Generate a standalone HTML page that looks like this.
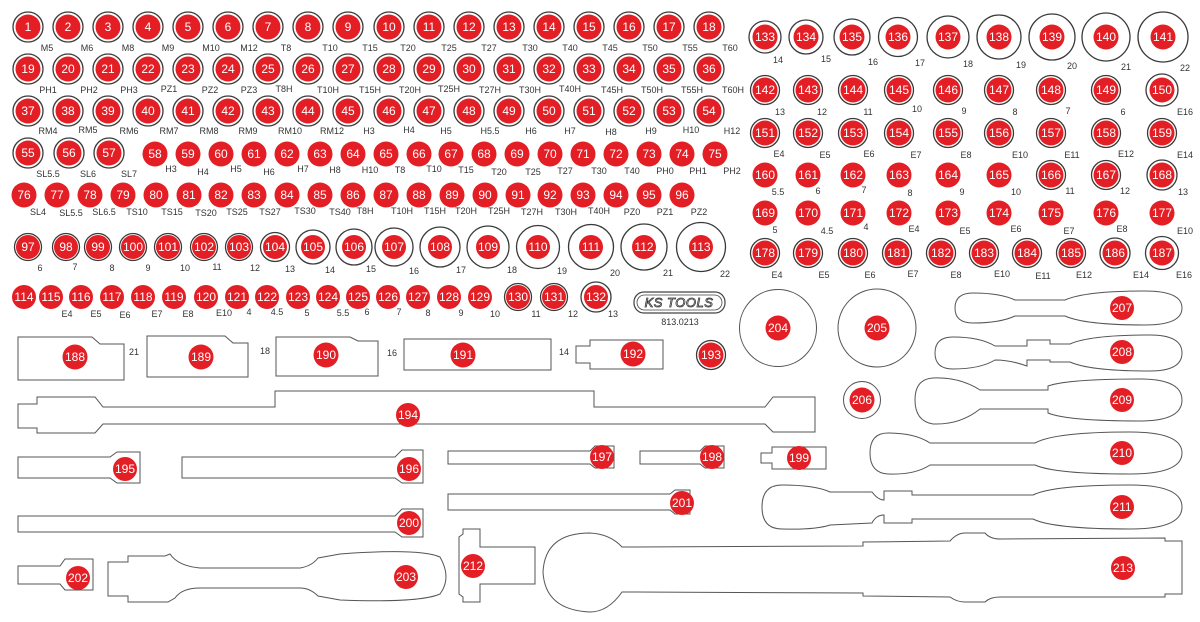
<!DOCTYPE html>
<html><head><meta charset="utf-8"><style>
html,body{margin:0;padding:0;background:#fff}
svg{display:block}
.r{fill:#e31e24}
.k{fill:#fff;stroke:#3a3a3a;stroke-width:1.3}
.n{font-family:"Liberation Sans",sans-serif;font-size:12px;fill:#fff;text-anchor:middle;dominant-baseline:central}
.l{font-family:"Liberation Sans",sans-serif;font-size:9px;fill:#333;text-anchor:middle}
.o{fill:none;stroke:#555;stroke-width:1}
</style></head><body>
<svg width="1200" height="622" viewBox="0 0 1200 622" xmlns="http://www.w3.org/2000/svg">
<!-- Row 1 -->
<g>
<circle class="k" cx="28" cy="27" r="15"/><circle class="r" cx="28" cy="27" r="12.5"/><text class="n" x="28" y="27">1</text><text class="l" x="47" y="51">M5</text>
<circle class="k" cx="68" cy="27" r="15"/><circle class="r" cx="68" cy="27" r="12.5"/><text class="n" x="68" y="27">2</text><text class="l" x="87" y="51">M6</text>
<circle class="k" cx="108" cy="27" r="15"/><circle class="r" cx="108" cy="27" r="12.5"/><text class="n" x="108" y="27">3</text><text class="l" x="128" y="51">M8</text>
<circle class="k" cx="148" cy="27" r="15"/><circle class="r" cx="148" cy="27" r="12.5"/><text class="n" x="148" y="27">4</text><text class="l" x="168" y="51">M9</text>
<circle class="k" cx="188" cy="27" r="15"/><circle class="r" cx="188" cy="27" r="12.5"/><text class="n" x="188" y="27">5</text><text class="l" x="211" y="51">M10</text>
<circle class="k" cx="228" cy="27" r="15"/><circle class="r" cx="228" cy="27" r="12.5"/><text class="n" x="228" y="27">6</text><text class="l" x="249" y="51">M12</text>
<circle class="k" cx="268" cy="27" r="15"/><circle class="r" cx="268" cy="27" r="12.5"/><text class="n" x="268" y="27">7</text><text class="l" x="286" y="51">T8</text>
<circle class="k" cx="308" cy="27" r="15"/><circle class="r" cx="308" cy="27" r="12.5"/><text class="n" x="308" y="27">8</text><text class="l" x="330" y="51">T10</text>
<circle class="k" cx="348" cy="27" r="15"/><circle class="r" cx="348" cy="27" r="12.5"/><text class="n" x="348" y="27">9</text><text class="l" x="370" y="51">T15</text>
<circle class="k" cx="389" cy="27" r="15"/><circle class="r" cx="389" cy="27" r="12.5"/><text class="n" x="389" y="27">10</text><text class="l" x="408" y="51">T20</text>
<circle class="k" cx="429" cy="27" r="15"/><circle class="r" cx="429" cy="27" r="12.5"/><text class="n" x="429" y="27">11</text><text class="l" x="449" y="51">T25</text>
<circle class="k" cx="469" cy="27" r="15"/><circle class="r" cx="469" cy="27" r="12.5"/><text class="n" x="469" y="27">12</text><text class="l" x="489" y="51">T27</text>
<circle class="k" cx="509" cy="27" r="15"/><circle class="r" cx="509" cy="27" r="12.5"/><text class="n" x="509" y="27">13</text><text class="l" x="530" y="51">T30</text>
<circle class="k" cx="549" cy="27" r="15"/><circle class="r" cx="549" cy="27" r="12.5"/><text class="n" x="549" y="27">14</text><text class="l" x="570" y="51">T40</text>
<circle class="k" cx="589" cy="27" r="15"/><circle class="r" cx="589" cy="27" r="12.5"/><text class="n" x="589" y="27">15</text><text class="l" x="610" y="51">T45</text>
<circle class="k" cx="629" cy="27" r="15"/><circle class="r" cx="629" cy="27" r="12.5"/><text class="n" x="629" y="27">16</text><text class="l" x="650" y="51">T50</text>
<circle class="k" cx="669" cy="27" r="15"/><circle class="r" cx="669" cy="27" r="12.5"/><text class="n" x="669" y="27">17</text><text class="l" x="690" y="51">T55</text>
<circle class="k" cx="709" cy="27" r="15"/><circle class="r" cx="709" cy="27" r="12.5"/><text class="n" x="709" y="27">18</text><text class="l" x="730" y="51">T60</text>
</g>
<!-- Row 2 -->
<g>
<circle class="k" cx="28" cy="69" r="15"/><circle class="r" cx="28" cy="69" r="12.5"/><text class="n" x="28" y="69">19</text><text class="l" x="48" y="93">PH1</text>
<circle class="k" cx="68" cy="69" r="15"/><circle class="r" cx="68" cy="69" r="12.5"/><text class="n" x="68" y="69">20</text><text class="l" x="89" y="93">PH2</text>
<circle class="k" cx="108" cy="69" r="15"/><circle class="r" cx="108" cy="69" r="12.5"/><text class="n" x="108" y="69">21</text><text class="l" x="129" y="93">PH3</text>
<circle class="k" cx="148" cy="69" r="15"/><circle class="r" cx="148" cy="69" r="12.5"/><text class="n" x="148" y="69">22</text><text class="l" x="169" y="92">PZ1</text>
<circle class="k" cx="188" cy="69" r="15"/><circle class="r" cx="188" cy="69" r="12.5"/><text class="n" x="188" y="69">23</text><text class="l" x="210" y="93">PZ2</text>
<circle class="k" cx="228" cy="69" r="15"/><circle class="r" cx="228" cy="69" r="12.5"/><text class="n" x="228" y="69">24</text><text class="l" x="249" y="93">PZ3</text>
<circle class="k" cx="268" cy="69" r="15"/><circle class="r" cx="268" cy="69" r="12.5"/><text class="n" x="268" y="69">25</text><text class="l" x="284" y="92">T8H</text>
<circle class="k" cx="308" cy="69" r="15"/><circle class="r" cx="308" cy="69" r="12.5"/><text class="n" x="308" y="69">26</text><text class="l" x="328" y="93">T10H</text>
<circle class="k" cx="348" cy="69" r="15"/><circle class="r" cx="348" cy="69" r="12.5"/><text class="n" x="348" y="69">27</text><text class="l" x="370" y="93">T15H</text>
<circle class="k" cx="389" cy="69" r="15"/><circle class="r" cx="389" cy="69" r="12.5"/><text class="n" x="389" y="69">28</text><text class="l" x="410" y="93">T20H</text>
<circle class="k" cx="429" cy="69" r="15"/><circle class="r" cx="429" cy="69" r="12.5"/><text class="n" x="429" y="69">29</text><text class="l" x="449" y="92">T25H</text>
<circle class="k" cx="469" cy="69" r="15"/><circle class="r" cx="469" cy="69" r="12.5"/><text class="n" x="469" y="69">30</text><text class="l" x="490" y="93">T27H</text>
<circle class="k" cx="509" cy="69" r="15"/><circle class="r" cx="509" cy="69" r="12.5"/><text class="n" x="509" y="69">31</text><text class="l" x="530" y="93">T30H</text>
<circle class="k" cx="549" cy="69" r="15"/><circle class="r" cx="549" cy="69" r="12.5"/><text class="n" x="549" y="69">32</text><text class="l" x="570" y="92">T40H</text>
<circle class="k" cx="589" cy="69" r="15"/><circle class="r" cx="589" cy="69" r="12.5"/><text class="n" x="589" y="69">33</text><text class="l" x="612" y="93">T45H</text>
<circle class="k" cx="629" cy="69" r="15"/><circle class="r" cx="629" cy="69" r="12.5"/><text class="n" x="629" y="69">34</text><text class="l" x="652" y="93">T50H</text>
<circle class="k" cx="669" cy="69" r="15"/><circle class="r" cx="669" cy="69" r="12.5"/><text class="n" x="669" y="69">35</text><text class="l" x="692" y="93">T55H</text>
<circle class="k" cx="709" cy="69" r="15"/><circle class="r" cx="709" cy="69" r="12.5"/><text class="n" x="709" y="69">36</text><text class="l" x="733" y="93">T60H</text>
</g>
<!-- Row 3 -->
<g>
<circle class="k" cx="28" cy="111" r="15"/><circle class="r" cx="28" cy="111" r="12.5"/><text class="n" x="28" y="111">37</text><text class="l" x="48" y="134">RM4</text>
<circle class="k" cx="68" cy="111" r="15"/><circle class="r" cx="68" cy="111" r="12.5"/><text class="n" x="68" y="111">38</text><text class="l" x="88" y="133">RM5</text>
<circle class="k" cx="108" cy="111" r="15"/><circle class="r" cx="108" cy="111" r="12.5"/><text class="n" x="108" y="111">39</text><text class="l" x="129" y="134">RM6</text>
<circle class="k" cx="148" cy="111" r="15"/><circle class="r" cx="148" cy="111" r="12.5"/><text class="n" x="148" y="111">40</text><text class="l" x="169" y="134">RM7</text>
<circle class="k" cx="188" cy="111" r="15"/><circle class="r" cx="188" cy="111" r="12.5"/><text class="n" x="188" y="111">41</text><text class="l" x="209" y="134">RM8</text>
<circle class="k" cx="228" cy="111" r="15"/><circle class="r" cx="228" cy="111" r="12.5"/><text class="n" x="228" y="111">42</text><text class="l" x="248" y="134">RM9</text>
<circle class="k" cx="268" cy="111" r="15"/><circle class="r" cx="268" cy="111" r="12.5"/><text class="n" x="268" y="111">43</text><text class="l" x="290" y="134">RM10</text>
<circle class="k" cx="308" cy="111" r="15"/><circle class="r" cx="308" cy="111" r="12.5"/><text class="n" x="308" y="111">44</text><text class="l" x="332" y="134">RM12</text>
<circle class="k" cx="348" cy="111" r="15"/><circle class="r" cx="348" cy="111" r="12.5"/><text class="n" x="348" y="111">45</text><text class="l" x="369" y="134">H3</text>
<circle class="k" cx="389" cy="111" r="15"/><circle class="r" cx="389" cy="111" r="12.5"/><text class="n" x="389" y="111">46</text><text class="l" x="409" y="133">H4</text>
<circle class="k" cx="429" cy="111" r="15"/><circle class="r" cx="429" cy="111" r="12.5"/><text class="n" x="429" y="111">47</text><text class="l" x="446" y="134">H5</text>
<circle class="k" cx="469" cy="111" r="15"/><circle class="r" cx="469" cy="111" r="12.5"/><text class="n" x="469" y="111">48</text><text class="l" x="490" y="134">H5.5</text>
<circle class="k" cx="509" cy="111" r="15"/><circle class="r" cx="509" cy="111" r="12.5"/><text class="n" x="509" y="111">49</text><text class="l" x="531" y="134">H6</text>
<circle class="k" cx="549" cy="111" r="15"/><circle class="r" cx="549" cy="111" r="12.5"/><text class="n" x="549" y="111">50</text><text class="l" x="570" y="134">H7</text>
<circle class="k" cx="589" cy="111" r="15"/><circle class="r" cx="589" cy="111" r="12.5"/><text class="n" x="589" y="111">51</text><text class="l" x="611" y="135">H8</text>
<circle class="k" cx="629" cy="111" r="15"/><circle class="r" cx="629" cy="111" r="12.5"/><text class="n" x="629" y="111">52</text><text class="l" x="651" y="134">H9</text>
<circle class="k" cx="669" cy="111" r="15"/><circle class="r" cx="669" cy="111" r="12.5"/><text class="n" x="669" y="111">53</text><text class="l" x="691" y="133">H10</text>
<circle class="k" cx="709" cy="111" r="15"/><circle class="r" cx="709" cy="111" r="12.5"/><text class="n" x="709" y="111">54</text><text class="l" x="732" y="134">H12</text>
</g>
<!-- Row 4 -->
<g>
<circle class="k" cx="28" cy="153" r="15"/><circle class="r" cx="28" cy="153" r="12.5"/><text class="n" x="28" y="153">55</text><text class="l" x="48" y="177">SL5.5</text>
<circle class="k" cx="69" cy="153" r="15"/><circle class="r" cx="69" cy="153" r="12.5"/><text class="n" x="69" y="153">56</text><text class="l" x="88" y="177">SL6</text>
<circle class="k" cx="109" cy="153" r="15"/><circle class="r" cx="109" cy="153" r="12.5"/><text class="n" x="109" y="153">57</text><text class="l" x="129" y="177">SL7</text>
<circle class="r" cx="155" cy="154" r="12.5"/><text class="n" x="155" y="154">58</text><text class="l" x="171" y="172">H3</text>
<circle class="r" cx="188" cy="154" r="12.5"/><text class="n" x="188" y="154">59</text><text class="l" x="203" y="175">H4</text>
<circle class="r" cx="221" cy="154" r="12.5"/><text class="n" x="221" y="154">60</text><text class="l" x="236" y="172">H5</text>
<circle class="r" cx="254" cy="154" r="12.5"/><text class="n" x="254" y="154">61</text><text class="l" x="269" y="175">H6</text>
<circle class="r" cx="287" cy="154" r="12.5"/><text class="n" x="287" y="154">62</text><text class="l" x="303" y="172">H7</text>
<circle class="r" cx="320" cy="154" r="12.5"/><text class="n" x="320" y="154">63</text><text class="l" x="335" y="173">H8</text>
<circle class="r" cx="353" cy="154" r="12.5"/><text class="n" x="353" y="154">64</text><text class="l" x="370" y="173">H10</text>
<circle class="r" cx="386" cy="154" r="12.5"/><text class="n" x="386" y="154">65</text><text class="l" x="400" y="173">T8</text>
<circle class="r" cx="419" cy="154" r="12.5"/><text class="n" x="419" y="154">66</text><text class="l" x="434" y="172">T10</text>
<circle class="r" cx="451" cy="154" r="12.5"/><text class="n" x="451" y="154">67</text><text class="l" x="466" y="173">T15</text>
<circle class="r" cx="484" cy="154" r="12.5"/><text class="n" x="484" y="154">68</text><text class="l" x="499" y="175">T20</text>
<circle class="r" cx="517" cy="154" r="12.5"/><text class="n" x="517" y="154">69</text><text class="l" x="533" y="175">T25</text>
<circle class="r" cx="550" cy="154" r="12.5"/><text class="n" x="550" y="154">70</text><text class="l" x="565" y="174">T27</text>
<circle class="r" cx="583" cy="154" r="12.5"/><text class="n" x="583" y="154">71</text><text class="l" x="599" y="174">T30</text>
<circle class="r" cx="616" cy="154" r="12.5"/><text class="n" x="616" y="154">72</text><text class="l" x="632" y="174">T40</text>
<circle class="r" cx="649" cy="154" r="12.5"/><text class="n" x="649" y="154">73</text><text class="l" x="665" y="174">PH0</text>
<circle class="r" cx="682" cy="154" r="12.5"/><text class="n" x="682" y="154">74</text><text class="l" x="698" y="174">PH1</text>
<circle class="r" cx="715" cy="154" r="12.5"/><text class="n" x="715" y="154">75</text><text class="l" x="732" y="174">PH2</text>
</g>
<!-- Row 5 -->
<g>
<circle class="r" cx="24" cy="195" r="12.5"/><text class="n" x="24" y="195">76</text><text class="l" x="38" y="215">SL4</text>
<circle class="r" cx="57" cy="195" r="12.5"/><text class="n" x="57" y="195">77</text><text class="l" x="71" y="216">SL5.5</text>
<circle class="r" cx="90" cy="195" r="12.5"/><text class="n" x="90" y="195">78</text><text class="l" x="104" y="215">SL6.5</text>
<circle class="r" cx="123" cy="195" r="12.5"/><text class="n" x="123" y="195">79</text><text class="l" x="137" y="215">TS10</text>
<circle class="r" cx="156" cy="195" r="12.5"/><text class="n" x="156" y="195">80</text><text class="l" x="172" y="215">TS15</text>
<circle class="r" cx="189" cy="195" r="12.5"/><text class="n" x="189" y="195">81</text><text class="l" x="206" y="216">TS20</text>
<circle class="r" cx="221" cy="195" r="12.5"/><text class="n" x="221" y="195">82</text><text class="l" x="237" y="215">TS25</text>
<circle class="r" cx="254" cy="195" r="12.5"/><text class="n" x="254" y="195">83</text><text class="l" x="270" y="215">TS27</text>
<circle class="r" cx="287" cy="195" r="12.5"/><text class="n" x="287" y="195">84</text><text class="l" x="305" y="214">TS30</text>
<circle class="r" cx="320" cy="195" r="12.5"/><text class="n" x="320" y="195">85</text><text class="l" x="340" y="215">TS40</text>
<circle class="r" cx="353" cy="195" r="12.5"/><text class="n" x="353" y="195">86</text><text class="l" x="365" y="214">T8H</text>
<circle class="r" cx="386" cy="195" r="12.5"/><text class="n" x="386" y="195">87</text><text class="l" x="402" y="214">T10H</text>
<circle class="r" cx="419" cy="195" r="12.5"/><text class="n" x="419" y="195">88</text><text class="l" x="435" y="214">T15H</text>
<circle class="r" cx="452" cy="195" r="12.5"/><text class="n" x="452" y="195">89</text><text class="l" x="466" y="214">T20H</text>
<circle class="r" cx="485" cy="195" r="12.5"/><text class="n" x="485" y="195">90</text><text class="l" x="499" y="214">T25H</text>
<circle class="r" cx="518" cy="195" r="12.5"/><text class="n" x="518" y="195">91</text><text class="l" x="532" y="215">T27H</text>
<circle class="r" cx="550" cy="195" r="12.5"/><text class="n" x="550" y="195">92</text><text class="l" x="566" y="215">T30H</text>
<circle class="r" cx="583" cy="195" r="12.5"/><text class="n" x="583" y="195">93</text><text class="l" x="599" y="214">T40H</text>
<circle class="r" cx="616" cy="195" r="12.5"/><text class="n" x="616" y="195">94</text><text class="l" x="632" y="215">PZ0</text>
<circle class="r" cx="649" cy="195" r="12.5"/><text class="n" x="649" y="195">95</text><text class="l" x="665" y="215">PZ1</text>
<circle class="r" cx="682" cy="195" r="12.5"/><text class="n" x="682" y="195">96</text><text class="l" x="699" y="215">PZ2</text>
</g>
<!-- Row 6 -->
<g>
<circle class="k" cx="28" cy="247" r="13.5"/><circle class="r" cx="28" cy="247" r="12"/><text class="n" x="28" y="247">97</text><text class="l" x="40" y="271">6</text>
<circle class="k" cx="66" cy="247" r="13.5"/><circle class="r" cx="66" cy="247" r="12"/><text class="n" x="66" y="247">98</text><text class="l" x="75" y="270">7</text>
<circle class="k" cx="98" cy="247" r="13.5"/><circle class="r" cx="98" cy="247" r="12"/><text class="n" x="98" y="247">99</text><text class="l" x="112" y="271">8</text>
<circle class="k" cx="133" cy="247" r="13.5"/><circle class="r" cx="133" cy="247" r="12"/><text class="n" x="133" y="247">100</text><text class="l" x="148" y="271">9</text>
<circle class="k" cx="168" cy="247" r="13.5"/><circle class="r" cx="168" cy="247" r="12"/><text class="n" x="168" y="247">101</text><text class="l" x="185" y="271">10</text>
<circle class="k" cx="204" cy="247" r="13.5"/><circle class="r" cx="204" cy="247" r="12"/><text class="n" x="204" y="247">102</text><text class="l" x="217" y="270">11</text>
<circle class="k" cx="239" cy="247" r="13.5"/><circle class="r" cx="239" cy="247" r="12"/><text class="n" x="239" y="247">103</text><text class="l" x="255" y="271">12</text>
<circle class="k" cx="275" cy="247" r="14.5"/><circle class="r" cx="275" cy="247" r="12"/><text class="n" x="275" y="247">104</text><text class="l" x="290" y="272">13</text>
<circle class="k" cx="313" cy="247" r="17"/><circle class="r" cx="313" cy="247" r="12"/><text class="n" x="313" y="247">105</text><text class="l" x="330" y="273">14</text>
<circle class="k" cx="354" cy="247" r="18"/><circle class="r" cx="354" cy="247" r="12"/><text class="n" x="354" y="247">106</text><text class="l" x="371" y="272">15</text>
<circle class="k" cx="394" cy="247" r="19"/><circle class="r" cx="394" cy="247" r="12"/><text class="n" x="394" y="247">107</text><text class="l" x="414" y="274">16</text>
<circle class="k" cx="440" cy="247" r="20"/><circle class="r" cx="440" cy="247" r="12"/><text class="n" x="440" y="247">108</text><text class="l" x="461" y="273">17</text>
<circle class="k" cx="488" cy="247" r="21"/><circle class="r" cx="488" cy="247" r="12"/><text class="n" x="488" y="247">109</text><text class="l" x="512" y="273">18</text>
<circle class="k" cx="538" cy="247" r="21.5"/><circle class="r" cx="538" cy="247" r="12"/><text class="n" x="538" y="247">110</text><text class="l" x="562" y="274">19</text>
<circle class="k" cx="591" cy="247" r="22.5"/><circle class="r" cx="591" cy="247" r="12"/><text class="n" x="591" y="247">111</text><text class="l" x="615" y="276">20</text>
<circle class="k" cx="644" cy="247" r="23"/><circle class="r" cx="644" cy="247" r="12"/><text class="n" x="644" y="247">112</text><text class="l" x="668" y="276">21</text>
<circle class="k" cx="701" cy="247" r="24.5"/><circle class="r" cx="701" cy="247" r="12"/><text class="n" x="701" y="247">113</text><text class="l" x="725" y="277">22</text>
</g>
<!-- Row 7 -->
<g>
<circle class="r" cx="24" cy="297" r="12"/><text class="n" x="24" y="297">114</text>
<circle class="r" cx="51" cy="297" r="12"/><text class="n" x="51" y="297">115</text><text class="l" x="67" y="317">E4</text>
<circle class="r" cx="81" cy="297" r="12"/><text class="n" x="81" y="297">116</text><text class="l" x="96" y="317">E5</text>
<circle class="r" cx="112" cy="297" r="12"/><text class="n" x="112" y="297">117</text><text class="l" x="125" y="318">E6</text>
<circle class="r" cx="143" cy="297" r="12"/><text class="n" x="143" y="297">118</text><text class="l" x="157" y="317">E7</text>
<circle class="r" cx="174" cy="297" r="12"/><text class="n" x="174" y="297">119</text><text class="l" x="188" y="317">E8</text>
<circle class="r" cx="206" cy="297" r="12"/><text class="n" x="206" y="297">120</text><text class="l" x="224" y="316">E10</text>
<circle class="r" cx="237" cy="297" r="12"/><text class="n" x="237" y="297">121</text><text class="l" x="249" y="315">4</text>
<circle class="r" cx="267" cy="297" r="12"/><text class="n" x="267" y="297">122</text><text class="l" x="277" y="315">4.5</text>
<circle class="r" cx="298" cy="297" r="12"/><text class="n" x="298" y="297">123</text><text class="l" x="307" y="316">5</text>
<circle class="r" cx="328" cy="297" r="12"/><text class="n" x="328" y="297">124</text><text class="l" x="343" y="316">5.5</text>
<circle class="r" cx="358" cy="297" r="12"/><text class="n" x="358" y="297">125</text><text class="l" x="367" y="315">6</text>
<circle class="r" cx="388" cy="297" r="12"/><text class="n" x="388" y="297">126</text><text class="l" x="399" y="315">7</text>
<circle class="r" cx="418" cy="297" r="12"/><text class="n" x="418" y="297">127</text><text class="l" x="428" y="316">8</text>
<circle class="r" cx="449" cy="297" r="12"/><text class="n" x="449" y="297">128</text><text class="l" x="461" y="316">9</text>
<circle class="r" cx="480" cy="297" r="12"/><text class="n" x="480" y="297">129</text><text class="l" x="495" y="317">10</text>
<circle class="k" cx="518" cy="297" r="13.5"/><circle class="r" cx="518" cy="297" r="12"/><text class="n" x="518" y="297">130</text><text class="l" x="536" y="317">11</text>
<circle class="k" cx="554" cy="297" r="13.5"/><circle class="r" cx="554" cy="297" r="12"/><text class="n" x="554" y="297">131</text><text class="l" x="573" y="317">12</text>
<circle class="k" cx="596" cy="297" r="15"/><circle class="r" cx="596" cy="297" r="12"/><text class="n" x="596" y="297">132</text><text class="l" x="613" y="317">13</text>
</g>
<!-- logo -->
<rect x="634" y="292" width="91" height="21" rx="10" fill="none" stroke="#444" stroke-width="1.2"/>
<rect x="637" y="295" width="85" height="15" rx="7.5" fill="none" stroke="#444" stroke-width="0.8"/>
<text x="679" y="307" font-family="Liberation Sans,sans-serif" font-size="13" font-style="italic" fill="#fff" stroke="#333" stroke-width="0.8" text-anchor="middle" letter-spacing="0.5">KS TOOLS</text>
<text class="l" x="680" y="325">813.0213</text>
<!-- Right block -->
<g>
<circle class="k" cx="765" cy="37" r="16"/><circle class="r" cx="765" cy="37" r="12.5"/><text class="n" x="765" y="37">133</text><text class="l" x="778" y="63">14</text>
<circle class="k" cx="806" cy="37" r="17"/><circle class="r" cx="806" cy="37" r="12.5"/><text class="n" x="806" y="37">134</text><text class="l" x="826" y="62">15</text>
<circle class="k" cx="852" cy="37" r="18"/><circle class="r" cx="852" cy="37" r="12.5"/><text class="n" x="852" y="37">135</text><text class="l" x="873" y="65">16</text>
<circle class="k" cx="898" cy="37" r="19.5"/><circle class="r" cx="898" cy="37" r="12.5"/><text class="n" x="898" y="37">136</text><text class="l" x="920" y="66">17</text>
<circle class="k" cx="948" cy="37" r="21"/><circle class="r" cx="948" cy="37" r="12.5"/><text class="n" x="948" y="37">137</text><text class="l" x="968" y="67">18</text>
<circle class="k" cx="999" cy="37" r="22"/><circle class="r" cx="999" cy="37" r="12.5"/><text class="n" x="999" y="37">138</text><text class="l" x="1021" y="68">19</text>
<circle class="k" cx="1052" cy="37" r="23"/><circle class="r" cx="1052" cy="37" r="12.5"/><text class="n" x="1052" y="37">139</text><text class="l" x="1072" y="69">20</text>
<circle class="k" cx="1106" cy="37" r="24"/><circle class="r" cx="1106" cy="37" r="12.5"/><text class="n" x="1106" y="37">140</text><text class="l" x="1126" y="70">21</text>
<circle class="k" cx="1163" cy="37" r="25"/><circle class="r" cx="1163" cy="37" r="12.5"/><text class="n" x="1163" y="37">141</text><text class="l" x="1185" y="71">22</text>

<circle class="k" cx="765" cy="90" r="14.5"/><circle class="r" cx="765" cy="90" r="12.5"/><text class="n" x="765" y="90">142</text><text class="l" x="780" y="115">13</text>
<circle class="k" cx="808" cy="90" r="14.5"/><circle class="r" cx="808" cy="90" r="12.5"/><text class="n" x="808" y="90">143</text><text class="l" x="822" y="115">12</text>
<circle class="k" cx="853" cy="90" r="14.5"/><circle class="r" cx="853" cy="90" r="12.5"/><text class="n" x="853" y="90">144</text><text class="l" x="868" y="115">11</text>
<circle class="k" cx="899" cy="90" r="14.5"/><circle class="r" cx="899" cy="90" r="12.5"/><text class="n" x="899" y="90">145</text><text class="l" x="917" y="112">10</text>
<circle class="k" cx="948" cy="90" r="14.5"/><circle class="r" cx="948" cy="90" r="12.5"/><text class="n" x="948" y="90">146</text><text class="l" x="964" y="114">9</text>
<circle class="k" cx="999" cy="90" r="14.5"/><circle class="r" cx="999" cy="90" r="12.5"/><text class="n" x="999" y="90">147</text><text class="l" x="1015" y="115">8</text>
<circle class="k" cx="1051" cy="90" r="14.5"/><circle class="r" cx="1051" cy="90" r="12.5"/><text class="n" x="1051" y="90">148</text><text class="l" x="1068" y="114">7</text>
<circle class="k" cx="1106" cy="90" r="14.5"/><circle class="r" cx="1106" cy="90" r="12.5"/><text class="n" x="1106" y="90">149</text><text class="l" x="1123" y="115">6</text>
<circle class="k" cx="1162" cy="90" r="16"/><circle class="r" cx="1162" cy="90" r="12.5"/><text class="n" x="1162" y="90">150</text><text class="l" x="1185" y="115">E16</text>

<circle class="k" cx="765" cy="133" r="14.5"/><circle class="r" cx="765" cy="133" r="12.5"/><text class="n" x="765" y="133">151</text><text class="l" x="779" y="157">E4</text>
<circle class="k" cx="808" cy="133" r="14.5"/><circle class="r" cx="808" cy="133" r="12.5"/><text class="n" x="808" y="133">152</text><text class="l" x="825" y="158">E5</text>
<circle class="k" cx="853" cy="133" r="14.5"/><circle class="r" cx="853" cy="133" r="12.5"/><text class="n" x="853" y="133">153</text><text class="l" x="869" y="157">E6</text>
<circle class="k" cx="899" cy="133" r="14.5"/><circle class="r" cx="899" cy="133" r="12.5"/><text class="n" x="899" y="133">154</text><text class="l" x="916" y="158">E7</text>
<circle class="k" cx="948" cy="133" r="14.5"/><circle class="r" cx="948" cy="133" r="12.5"/><text class="n" x="948" y="133">155</text><text class="l" x="966" y="158">E8</text>
<circle class="k" cx="999" cy="133" r="14.5"/><circle class="r" cx="999" cy="133" r="12.5"/><text class="n" x="999" y="133">156</text><text class="l" x="1020" y="158">E10</text>
<circle class="k" cx="1051" cy="133" r="14.5"/><circle class="r" cx="1051" cy="133" r="12.5"/><text class="n" x="1051" y="133">157</text><text class="l" x="1072" y="158">E11</text>
<circle class="k" cx="1106" cy="133" r="14.5"/><circle class="r" cx="1106" cy="133" r="12.5"/><text class="n" x="1106" y="133">158</text><text class="l" x="1126" y="157">E12</text>
<circle class="k" cx="1162" cy="133" r="14.5"/><circle class="r" cx="1162" cy="133" r="12.5"/><text class="n" x="1162" y="133">159</text><text class="l" x="1185" y="158">E14</text>

<circle class="r" cx="765" cy="175" r="12.5"/><text class="n" x="765" y="175">160</text><text class="l" x="778" y="195">5.5</text>
<circle class="r" cx="808" cy="175" r="12.5"/><text class="n" x="808" y="175">161</text><text class="l" x="818" y="194">6</text>
<circle class="r" cx="853" cy="175" r="12.5"/><text class="n" x="853" y="175">162</text><text class="l" x="864" y="193">7</text>
<circle class="r" cx="899" cy="175" r="12.5"/><text class="n" x="899" y="175">163</text><text class="l" x="910" y="196">8</text>
<circle class="r" cx="948" cy="175" r="12.5"/><text class="n" x="948" y="175">164</text><text class="l" x="962" y="195">9</text>
<circle class="r" cx="999" cy="175" r="12.5"/><text class="n" x="999" y="175">165</text><text class="l" x="1016" y="195">10</text>
<circle class="k" cx="1051" cy="175" r="14.5"/><circle class="r" cx="1051" cy="175" r="12.5"/><text class="n" x="1051" y="175">166</text><text class="l" x="1070" y="194">11</text>
<circle class="k" cx="1106" cy="175" r="14.5"/><circle class="r" cx="1106" cy="175" r="12.5"/><text class="n" x="1106" y="175">167</text><text class="l" x="1125" y="194">12</text>
<circle class="k" cx="1162" cy="175" r="15"/><circle class="r" cx="1162" cy="175" r="12.5"/><text class="n" x="1162" y="175">168</text><text class="l" x="1183" y="195">13</text>

<circle class="r" cx="765" cy="213" r="12.5"/><text class="n" x="765" y="213">169</text><text class="l" x="775" y="233">5</text>
<circle class="r" cx="808" cy="213" r="12.5"/><text class="n" x="808" y="213">170</text><text class="l" x="827" y="234">4.5</text>
<circle class="r" cx="853" cy="213" r="12.5"/><text class="n" x="853" y="213">171</text><text class="l" x="866" y="230">4</text>
<circle class="r" cx="899" cy="213" r="12.5"/><text class="n" x="899" y="213">172</text><text class="l" x="914" y="232">E4</text>
<circle class="r" cx="948" cy="213" r="12.5"/><text class="n" x="948" y="213">173</text><text class="l" x="965" y="234">E5</text>
<circle class="r" cx="999" cy="213" r="12.5"/><text class="n" x="999" y="213">174</text><text class="l" x="1016" y="232">E6</text>
<circle class="r" cx="1051" cy="213" r="12.5"/><text class="n" x="1051" y="213">175</text><text class="l" x="1069" y="234">E7</text>
<circle class="r" cx="1106" cy="213" r="12.5"/><text class="n" x="1106" y="213">176</text><text class="l" x="1122" y="232">E8</text>
<circle class="r" cx="1162" cy="213" r="12.5"/><text class="n" x="1162" y="213">177</text><text class="l" x="1185" y="234">E10</text>

<circle class="k" cx="765" cy="253" r="14.5"/><circle class="r" cx="765" cy="253" r="12.5"/><text class="n" x="765" y="253">178</text><text class="l" x="777" y="278">E4</text>
<circle class="k" cx="808" cy="253" r="14.5"/><circle class="r" cx="808" cy="253" r="12.5"/><text class="n" x="808" y="253">179</text><text class="l" x="824" y="278">E5</text>
<circle class="k" cx="853" cy="253" r="14.5"/><circle class="r" cx="853" cy="253" r="12.5"/><text class="n" x="853" y="253">180</text><text class="l" x="870" y="278">E6</text>
<circle class="k" cx="897" cy="253" r="14.5"/><circle class="r" cx="897" cy="253" r="12.5"/><text class="n" x="897" y="253">181</text><text class="l" x="913" y="277">E7</text>
<circle class="k" cx="941" cy="253" r="14.5"/><circle class="r" cx="941" cy="253" r="12.5"/><text class="n" x="941" y="253">182</text><text class="l" x="956" y="278">E8</text>
<circle class="k" cx="984" cy="253" r="14.5"/><circle class="r" cx="984" cy="253" r="12.5"/><text class="n" x="984" y="253">183</text><text class="l" x="1002" y="277">E10</text>
<circle class="k" cx="1027" cy="253" r="14.5"/><circle class="r" cx="1027" cy="253" r="12.5"/><text class="n" x="1027" y="253">184</text><text class="l" x="1043" y="279">E11</text>
<circle class="k" cx="1071" cy="253" r="14.5"/><circle class="r" cx="1071" cy="253" r="12.5"/><text class="n" x="1071" y="253">185</text><text class="l" x="1084" y="278">E12</text>
<circle class="k" cx="1115" cy="253" r="15"/><circle class="r" cx="1115" cy="253" r="12.5"/><text class="n" x="1115" y="253">186</text><text class="l" x="1141" y="278">E14</text>
<circle class="k" cx="1162" cy="253" r="16.5"/><circle class="r" cx="1162" cy="253" r="12.5"/><text class="n" x="1162" y="253">187</text><text class="l" x="1184" y="278">E16</text>
</g>
<!-- Sockets long -->
<path class="o" d="M18,337 H92 L100,344 H124 V380 H18 Z"/>
<circle class="r" cx="75" cy="357" r="12.5"/><text class="n" x="75" y="357">188</text><text class="l" x="134" y="355">21</text>
<path class="o" d="M147,336 H225 L233,343 H248 V377 H147 Z"/>
<circle class="r" cx="201" cy="357" r="12.5"/><text class="n" x="201" y="357">189</text><text class="l" x="265" y="354">18</text>
<path class="o" d="M276,337 H350 L358,341 H378 V376 H276 Z"/>
<circle class="r" cx="326" cy="355" r="12.5"/><text class="n" x="326" y="355">190</text><text class="l" x="392" y="356">16</text>
<rect class="o" x="404" y="339" width="147" height="31"/>
<circle class="r" cx="463" cy="355" r="12.5"/><text class="n" x="463" y="355">191</text><text class="l" x="564" y="355">14</text>
<path class="o" d="M590,340 H663 V369 H590 V363 H576 V346 H590 Z"/>
<circle class="r" cx="633" cy="354" r="12.5"/><text class="n" x="633" y="354">192</text>
<circle class="k" cx="711" cy="355" r="14.5"/><circle class="r" cx="711" cy="355" r="12.5"/><text class="n" x="711" y="355">193</text>
<!-- bars -->
<path class="o" d="M18,404 H37 V397 H95 L103,407 H275 V391 H594 V407 H765 L773,397 H815 V432 H773 L765,424 H103 L95,433 H37 V428 H18 Z"/>
<circle class="r" cx="408" cy="415" r="12"/><text class="n" x="408" y="415">194</text>
<path class="o" d="M18,457 H110 L117,452 H140 V483 H117 L110,478 H18 Z"/>
<circle class="r" cx="125" cy="469" r="12"/><text class="n" x="125" y="469">195</text>
<path class="o" d="M182,457 H395 L402,450 H423 V483 H402 L395,478 H182 Z"/>
<circle class="r" cx="409" cy="469" r="12"/><text class="n" x="409" y="469">196</text>
<path class="o" d="M448,451 H590 L595,446 H614 V468 H595 L590,464 H448 Z"/>
<circle class="r" cx="602" cy="457" r="12"/><text class="n" x="602" y="457">197</text>
<path class="o" d="M640,451 H700 L705,446 H724 V468 H705 L700,464 H640 Z"/>
<circle class="r" cx="712" cy="457" r="12"/><text class="n" x="712" y="457">198</text>
<path class="o" d="M772,447 H826 V469 H772 V463 H761 V453 H772 Z"/>
<circle class="r" cx="799" cy="458" r="12"/><text class="n" x="799" y="458">199</text>
<path class="o" d="M18,516 H395 L402,509 H423 V537 H402 L395,532 H18 Z"/>
<circle class="r" cx="409" cy="523" r="12"/><text class="n" x="409" y="523">200</text>
<path class="o" d="M448,494 H670 L675,490 H690 V514 H675 L670,510 H448 Z"/>
<circle class="r" cx="682" cy="503" r="12"/><text class="n" x="682" y="503">201</text>
<path class="o" d="M18,566 H60 L65,559 H93 V590 H65 L60,584 H18 Z"/>
<circle class="r" cx="78" cy="578" r="12"/><text class="n" x="78" y="578">202</text>
<path class="o" d="M108,562 H128 V556 H165 L170,554 Q178,566 200,568 H300 Q312,566 318,558 L340,554 Q420,548 440,557 Q452,578 440,594 Q420,603 340,600 L318,596 Q310,588 300,588 H200 Q182,588 175,598 L168,602 H128 V596 H108 Z"/>
<circle class="r" cx="406" cy="577" r="12"/><text class="n" x="406" y="577">203</text>
<path class="o" d="M463,529 H480 V547 H535 V584 H480 V602 H463 V597 L459,594 V537 L463,534 Z"/>
<circle class="r" cx="473" cy="566" r="12"/><text class="n" x="473" y="566">212</text>
<path class="o" d="M590,533 Q610,534 622,547 L863,546 V542 L950,541 Q957,533 965,533 H985 Q990,539 1000,539 L1165,538 V541 H1182 V594 H1165 V597 L1000,597 Q990,597 985,602 H965 Q957,602 950,597 L863,596 V593 L622,592 Q608,612 590,612 Q545,610 543,572 Q545,533 590,533 Z"/>
<circle class="r" cx="1123" cy="568" r="12"/><text class="n" x="1123" y="568">213</text>
<!-- big circles -->
<circle class="o" cx="778" cy="328" r="38.5"/>
<circle class="r" cx="778" cy="328" r="12.5"/><text class="n" x="778" y="328">204</text>
<circle class="o" cx="877" cy="328" r="39"/>
<circle class="r" cx="877" cy="328" r="12.5"/><text class="n" x="877" y="328">205</text>
<circle class="o" cx="862" cy="400" r="18.5"/>
<circle class="r" cx="862" cy="400" r="12.5"/><text class="n" x="862" y="400">206</text>
<!-- handles -->
<path class="o" d="M973,293 Q1000,293 1015,300 H1065 Q1085,291 1145,291 Q1182,291 1182,308 Q1182,325 1145,325 Q1085,325 1065,316 H1015 Q1000,323 973,323 Q955,323 955,308 Q955,293 973,293 Z"/>
<circle class="r" cx="1122" cy="308" r="12"/><text class="n" x="1122" y="308">207</text>
<path class="o" d="M953,337 Q980,337 995,346 H1027 V340 H1050 V344 H1070 Q1090,335 1150,335 Q1182,335 1182,353 Q1182,371 1150,371 Q1090,371 1070,362 H1050 V360 H1027 V366 Q1010,360 995,360 Q980,369 953,369 Q935,369 935,353 Q935,337 953,337 Z"/>
<circle class="r" cx="1122" cy="352" r="12"/><text class="n" x="1122" y="352">208</text>
<path class="o" d="M933,378 Q960,377 980,390 H1048 V386 Q1068,379 1140,379 Q1182,379 1182,400 Q1182,421 1140,421 Q1068,421 1048,413 V409 H980 Q960,425 933,424 Q915,421 915,400 Q915,379 933,378 Z"/>
<circle class="r" cx="1122" cy="400" r="12"/><text class="n" x="1122" y="400">209</text>
<path class="o" d="M888,433 Q915,433 930,443 H1035 Q1055,432 1130,432 Q1182,432 1182,453 Q1182,474 1130,474 Q1055,474 1035,465 H930 Q915,475 888,474 Q870,473 870,453 Q870,433 888,433 Z"/>
<circle class="r" cx="1122" cy="453" r="12"/><text class="n" x="1122" y="453">210</text>
<path class="o" d="M782,485 Q815,485 830,492 L872,492 Q878,500 884,500 V491 H912 V495 H1033 Q1053,485 1130,485 Q1182,485 1182,507 Q1182,529 1130,529 Q1053,529 1033,519 H912 V523 H884 V515 Q876,515 872,523 L830,525 Q815,530 782,529 Q762,529 762,507 Q762,485 782,485 Z"/>
<circle class="r" cx="1122" cy="507" r="12"/><text class="n" x="1122" y="507">211</text>
</svg>
</body></html>
